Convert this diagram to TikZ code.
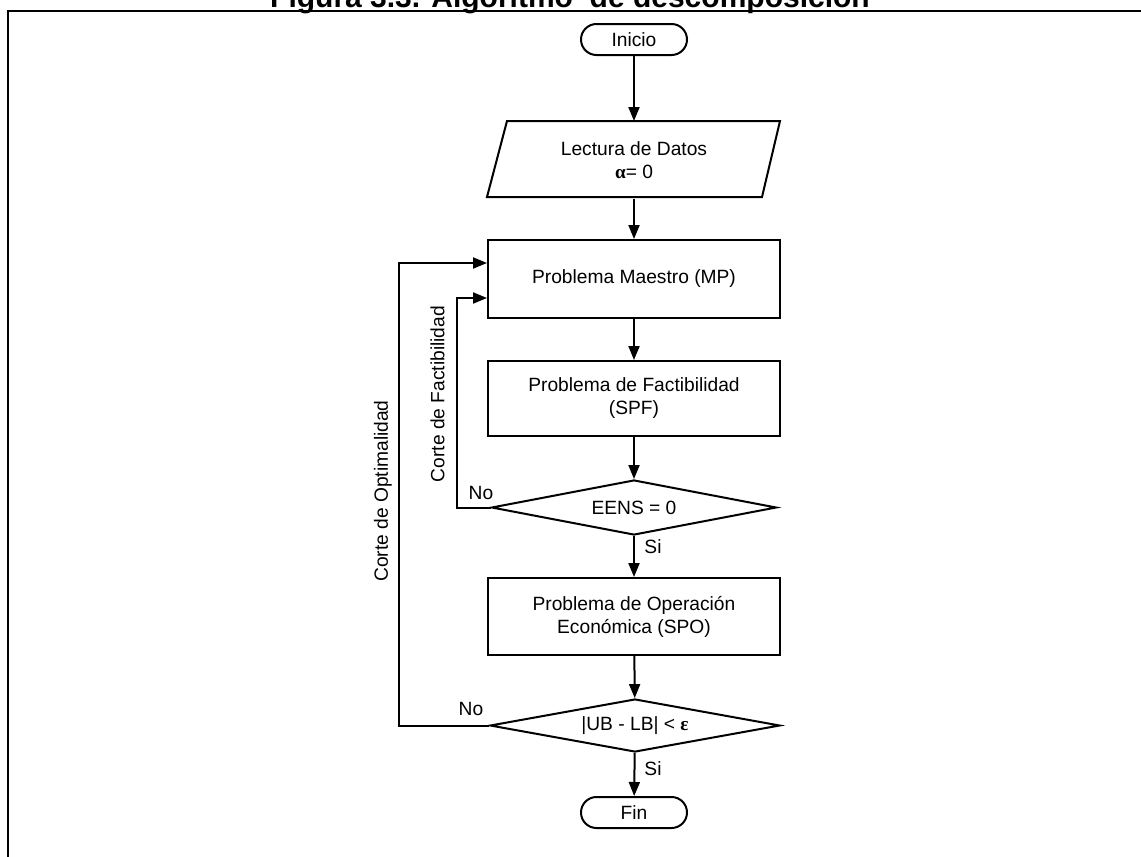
\documentclass[tikz,border=0pt]{standalone}
\usepackage{fontspec}
\setmainfont{Liberation Sans}
\newfontfamily\serifgr{Liberation Serif}
\usetikzlibrary{arrows.meta,shapes.geometric}
\begin{document}
\begin{tikzpicture}[x=0.5pt,y=-0.5pt,
  line width=1pt,
  every node/.style={font=\fontsize{9.6pt}{11.5pt}\selectfont},
  box/.style={draw, minimum width=146pt, minimum height=39pt, align=center, inner sep=0},
  term/.style={draw, rounded corners=7.75pt, minimum width=53pt, minimum height=15.5pt, inner sep=0},
  dec/.style={draw, diamond, minimum width=142.5pt, minimum height=27.5pt, inner sep=0, aspect=5},
  arr/.style={-{Triangle[length=7pt,width=5.5pt]}},
  lbl/.style={inner sep=0}
]
\useasboundingbox (0,0) rectangle (1141,857);
\clip (0,0) rectangle (1141,857);

% title (cut by the top edge) and frame
\node[font=\fontsize{15pt}{18pt}\selectfont\bfseries, anchor=base, inner sep=0] (title) at (570,7) {Figura 3.3. Algoritmo\ \ de descomposición};
\draw[line width=1.2pt] (8,857) -- (8,11) -- (1141,11);

% nodes
\node[term] (ini) at (634,39.5) {Inicio};
\node[minimum width=140pt, minimum height=38pt, align=center, inner sep=0] (lec) at (634,160) {Lectura de Datos\\{\serifgr\bfseries α}= 0};
\draw (507,121) -- (780,121) -- (762,197) -- (487,197) -- cycle;
\node[box] (mp) at (634,279) {Problema Maestro (MP)};
\node[box, minimum height=37.5pt] (spf) at (634,398.5) {Problema de Factibilidad\\(SPF)};
\node[dec] (d1) at (634,507.5) {EENS = 0};
\node[box, minimum height=38.5pt] (spo) at (634,616.5) {Problema de Operación\\Económica (SPO)};
\node[dec, minimum width=145pt, minimum height=26.5pt] (d2) at (635,725.5) {|UB - LB| < {\serifgr\bfseries ε}};
\node[term] (fin) at (634,812.5) {Fin};

% labels
\node[lbl] (no1) at (481,493) {No};
\node[lbl] (si1) at (653,547) {Si};
\node[lbl] (no2) at (471,709) {No};
\node[lbl] (si2) at (653,769) {Si};
\node[lbl, rotate=90] (cf) at (437.5,394) {Corte de Factibilidad};
\node[lbl, rotate=90] (co) at (383,491) {Corte de Optimalidad};

% connectors
\draw[arr] (ini) -- (lec);
\draw[arr] (lec) -- (mp);
\draw[arr] (mp) -- (spf);
\draw[arr] (spf) -- (d1);
\draw[arr] (d1) -- (spo);
\draw[arr] (spo) -- (d2);
\draw[arr] (d2) -- (fin);
\draw[arr] (d1.west) -- ++(-34,0) |- ([yshift=-9.5pt]mp.west);
\draw[arr] (d2.west) -- ++(-90,0) |- ([yshift=8pt]mp.west);
\end{tikzpicture}
\end{document}
